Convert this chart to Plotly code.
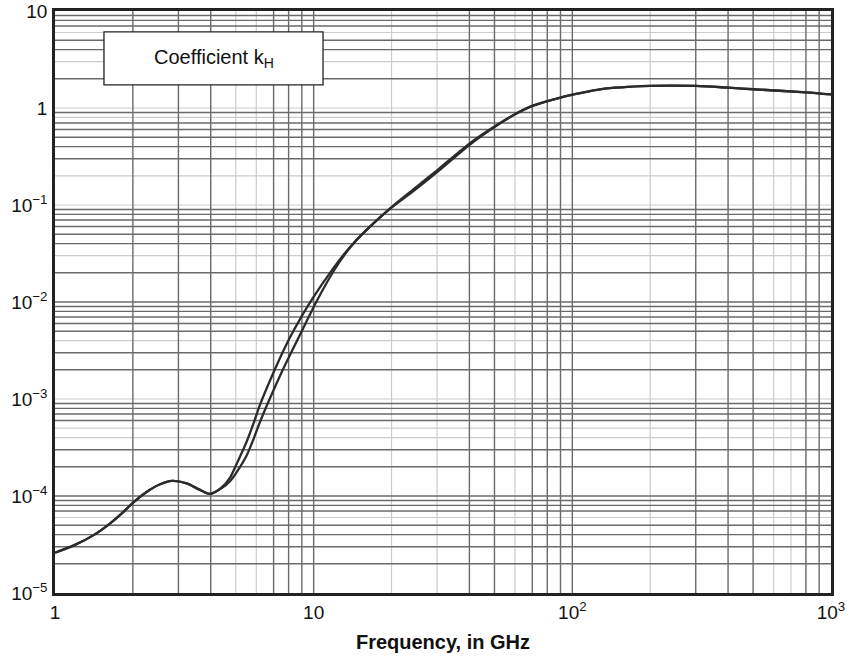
import plotly.graph_objects as go

# curve 1 (upper branch where the two curves split)
freq_a = [1, 1.2, 1.41, 1.63, 1.8, 2.0, 2.26, 2.55, 2.83, 3.23, 3.6, 3.97, 4.4, 4.75, 5.1, 5.5,
          5.84, 6.2, 6.98, 7.7, 8.47, 9.82, 11.9, 13.2, 14.7, 18, 20, 24.3, 30, 40, 50, 60, 70,
          90, 107, 128, 200, 300, 400, 500, 800, 1000]
k_a = [2.6e-5, 3.15e-5, 3.95e-5, 5.2e-5, 6.5e-5, 8.5e-5, 1.1e-4, 1.32e-4, 1.43e-4, 1.35e-4,
       1.17e-4, 1.05e-4, 1.22e-4, 1.55e-4, 2.3e-4, 3.6e-4, 5.5e-4, 8.7e-4, 1.85e-3, 3.3e-3,
       5.4e-3, 1.05e-2, 2.22e-2, 0.0318, 0.044, 0.074, 0.095, 0.145, 0.228, 0.43, 0.645, 0.86,
       1.05, 1.28, 1.42, 1.56, 1.69, 1.69, 1.62, 1.56, 1.45, 1.38]

# curve 2 (lower branch)
freq_b = [1, 1.2, 1.41, 1.63, 1.8, 2.0, 2.26, 2.55, 2.83, 3.23, 3.6, 3.97, 4.4, 4.75, 5.1, 5.5,
          5.84, 6.2, 7.59, 9.12, 10.27, 11.9, 13.2, 14.7, 18, 20, 24.3, 30, 40, 50, 60, 70,
          90, 107, 128, 200, 300, 400, 500, 800, 1000]
k_b = [2.6e-5, 3.15e-5, 3.95e-5, 5.2e-5, 6.5e-5, 8.5e-5, 1.1e-4, 1.32e-4, 1.43e-4, 1.35e-4,
       1.17e-4, 1.05e-4, 1.2e-4, 1.42e-4, 1.85e-4, 2.6e-4, 3.8e-4, 5.8e-4, 1.99e-3, 5.4e-3,
       1.02e-2, 2.05e-2, 0.031, 0.044, 0.074, 0.094, 0.139, 0.218, 0.415, 0.635, 0.86, 1.05,
       1.28, 1.42, 1.56, 1.69, 1.69, 1.62, 1.56, 1.45, 1.38]

# tick labels
x_tickvals = [1, 10, 100, 1000]
x_ticktext = ["1", "10", "10<sup>2</sup>", "10<sup>3</sup>"]
y_tickvals = [1e-5, 1e-4, 1e-3, 1e-2, 1e-1, 1, 10]
y_ticktext = ["10<sup>\u22125</sup>", "10<sup>\u22124</sup>", "10<sup>\u22123</sup>",
              "10<sup>\u22122</sup>", "10<sup>\u22121</sup>", "1", "10"]

# grid lines (scanned chart: some darker, some lighter)
x_grid_dark = [2, 3, 4, 7, 8, 9, 10, 40, 50, 70, 80, 90, 100, 300, 400, 500, 800, 900]
x_grid_light = [5, 6, 20, 30, 60, 200, 600, 700]
y_grid_light = [6, 3, 1, 0.8, 0.2, 0.1, 0.03, 0.004, 1e-3, 5e-4, 4e-4, 6e-5]
y_grid_dark = []
for e in range(-5, 1):
    for m in range(1, 10):
        v = float(f"{m}e{e}")
        if v <= 1e-5:
            continue
        if not any(abs(v - w) / w < 1e-6 for w in y_grid_light):
            y_grid_dark.append(v)

DARK = "#6a6a6a"
LIGHT = "#cccccc"

shapes = []
for v in x_grid_light:
    shapes.append(dict(type="line", xref="x", yref="paper", x0=v, x1=v, y0=0, y1=1,
                       line=dict(color=LIGHT, width=1.2), layer="below"))
for v in y_grid_light:
    shapes.append(dict(type="line", xref="paper", yref="y", x0=0, x1=1, y0=v, y1=v,
                       line=dict(color=LIGHT, width=1.2), layer="below"))
for v in x_grid_dark:
    shapes.append(dict(type="line", xref="x", yref="paper", x0=v, x1=v, y0=0, y1=1,
                       line=dict(color=DARK, width=1.4), layer="below"))
for v in y_grid_dark:
    shapes.append(dict(type="line", xref="paper", yref="y", x0=0, x1=1, y0=v, y1=v,
                       line=dict(color=DARK, width=1.4), layer="below"))

# label box
shapes.append(dict(type="rect", xref="paper", yref="paper", x0=0.0631, x1=0.3454,
                   y0=0.873, y1=0.964, fillcolor="white",
                   line=dict(color="#222", width=1.3), layer="above"))

fig = go.Figure()
fig.add_trace(go.Scatter(x=freq_a, y=k_a, mode="lines",
                         line=dict(color="#2b2b2b", width=2.3, shape="spline", smoothing=0.8),
                         showlegend=False, hoverinfo="skip"))
fig.add_trace(go.Scatter(x=freq_b, y=k_b, mode="lines",
                         line=dict(color="#2b2b2b", width=2.3, shape="spline", smoothing=0.8),
                         showlegend=False, hoverinfo="skip"))

fig.update_layout(
    width=847, height=659,
    margin=dict(l=55, r=16, t=11, b=66, autoexpand=False),
    plot_bgcolor="white", paper_bgcolor="white",
    font=dict(family="Liberation Sans, Arial, sans-serif", color="#111", size=19),
    shapes=shapes,
    annotations=[dict(text="Coefficient k<sub>H</sub>", xref="paper", yref="paper",
                      x=0.2043, y=0.9185, xanchor="center", yanchor="middle",
                      showarrow=False, font=dict(size=20))],
)

fig.update_xaxes(type="log", range=[0, 3], tickvals=x_tickvals, ticktext=x_ticktext,
                 showgrid=False, zeroline=False, showline=True, mirror=True, automargin=False,
                 linecolor="#222", linewidth=2.5, ticks="",
                 title=dict(text="<b>Frequency, in GHz</b>", font=dict(size=20), standoff=14))
fig.update_yaxes(type="log", range=[-5, 1], tickvals=y_tickvals, ticktext=y_ticktext,
                 showgrid=False, zeroline=False, showline=True, mirror=True, automargin=False,
                 linecolor="#222", linewidth=2.5, ticks="", ticklabelstandoff=1)

# drop the page's default body margin so the figure sits at the window's corner
fig.write_html("out.html", config={"displayModeBar": False},
               post_script="document.body.style.margin='0';")
